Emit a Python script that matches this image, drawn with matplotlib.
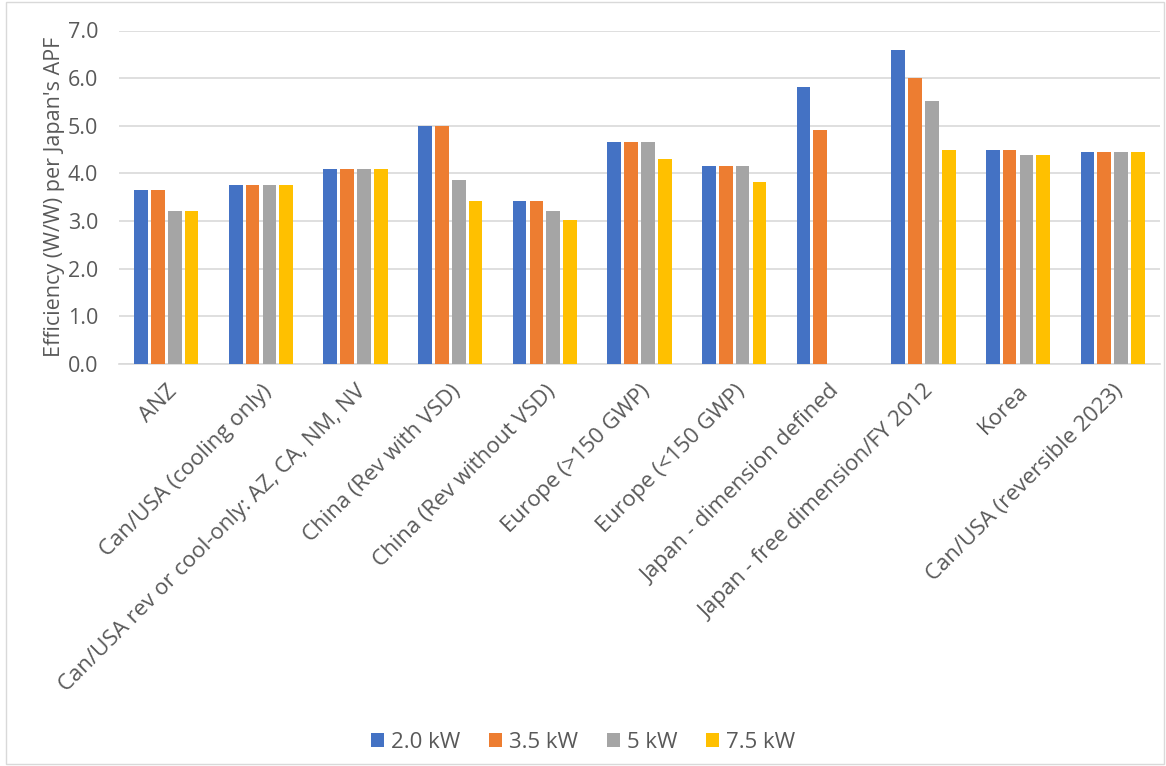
import numpy as np
import matplotlib.pyplot as plt

categories = ["ANZ", "Can/USA (cooling only)", "Can/USA rev or cool-only: AZ, CA, NM, NV",
              "China (Rev with VSD)", "China (Rev without VSD)", "Europe (>150 GWP)",
              "Europe (<150 GWP)", "Japan - dimension defined",
              "Japan - free dimension/FY 2012", "Korea", "Can/USA (reversible 2023)"]
kw20 = [3.65, 3.75, 4.10, 5.00, 3.42, 4.65, 4.16, 5.81, 6.60, 4.50, 4.45]
kw35 = [3.65, 3.75, 4.10, 5.00, 3.42, 4.65, 4.16, 4.91, 6.00, 4.50, 4.45]
kw50 = [3.21, 3.75, 4.10, 3.86, 3.21, 4.65, 4.16, np.nan, 5.51, 4.39, 4.45]
kw75 = [3.21, 3.75, 4.10, 3.42, 3.02, 4.30, 3.81, np.nan, 4.50, 4.39, 4.45]
series = ["2.0 kW", "3.5 kW", "5 kW", "7.5 kW"]
colors = ["#4472C4", "#ED7D31", "#A5A5A5", "#FFC000"]

plt.rcParams['font.family'] = ['Open Sans', 'DejaVu Sans']
txt = "#595959"

fig = plt.figure(figsize=(11.66, 7.66), dpi=100)
ax = fig.add_axes([119/1166, 1 - 364/766, (1160-119)/1166, (364-30.5)/766])

x = np.arange(len(categories))
for i, (vals, name, c) in enumerate(zip([kw20, kw35, kw50, kw75], series, colors)):
    ax.bar(x + (i - 1.5) * 0.178, vals, width=0.145, color=c, label=name, zorder=3)

ax.set_xlim(-0.5, len(categories) - 0.5)
ax.set_ylim(0, 7)
ax.set_yticks(np.arange(0, 7.1, 1.0))
ax.set_yticklabels(["%.1f" % v for v in np.arange(0, 7.1, 1.0)], fontsize=15.5, color=txt)
ax.set_xticks(x)
ax.set_xticklabels(categories, rotation=45, ha="right", rotation_mode="anchor",
                   fontsize=16, color=txt)
ax.tick_params(axis="y", length=0, pad=15)
ax.tick_params(axis="x", length=0, pad=12)
ax.grid(axis="y", color="#d9d9d9", linewidth=1.2, zorder=0)
for s in ["top", "right", "left"]:
    ax.spines[s].set_visible(False)
ax.spines["bottom"].set_color("#d9d9d9")
ax.spines["bottom"].set_linewidth(1.2)
ax.set_ylabel("Efficiency (W/W) per Japan's APF", fontsize=15.5, color=txt, labelpad=2)

fig.legend(loc="center", bbox_to_anchor=(0.5, 1 - 742/766), ncol=4, frameon=False,
           fontsize=16, labelcolor=txt, handlelength=0.6, handleheight=0.6,
           handletextpad=0.3, columnspacing=1.3)

fig.patches.append(plt.Rectangle((0.005, 0.002), 0.993, 0.996, transform=fig.transFigure,
                                 fill=False, edgecolor="#d9d9d9", linewidth=1))
fig.savefig("out.png", dpi=100)
